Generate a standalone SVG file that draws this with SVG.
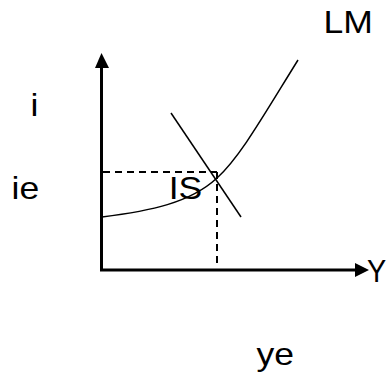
<svg xmlns="http://www.w3.org/2000/svg" width="387" height="376" viewBox="0 0 387 376">
<style>
text{font-family:"Liberation Sans",Arial,sans-serif;font-size:32px;fill:#000}
.axis{stroke:#000;stroke-width:3;fill:none}
.curve{stroke:#000;stroke-width:1.5;fill:none}
.dash{stroke:#000;stroke-width:2;stroke-dasharray:7 5;fill:none}
</style>
<rect width="387" height="376" fill="#fff"/>
<g id="connectors">
<line class="axis" x1="101.5" y1="271" x2="101.5" y2="66"/>
<polygon points="101.5,53 95,68 109,68" fill="#000"/>
<line class="axis" x1="100" y1="270" x2="356" y2="270"/>
<polygon points="369,270 355,263 355,277" fill="#000"/>
<line class="dash" x1="103" y1="172" x2="217" y2="172"/>
<line class="dash" x1="217" y1="172" x2="217" y2="266"/>
<path class="curve" d="M102,217 C150,211 190,203 217,178 C240,157 262,118 298,60"/>
<line class="curve" x1="171" y1="113" x2="241" y2="217"/>
</g>
<g id="labels">
<text transform="translate(323.4,33) scale(1.11,1)">LM</text>
<text transform="translate(30.6,116) scale(1.11,1)">i</text>
<text transform="translate(11.6,199) scale(1.11,1)">ie</text>
<text transform="translate(168.7,199) scale(1.11,1)">IS</text>
<text transform="translate(367,282) scale(0.9,1)">Y</text>
<text transform="translate(256.5,365) scale(1.11,1)">ye</text>
</g>
</svg>
